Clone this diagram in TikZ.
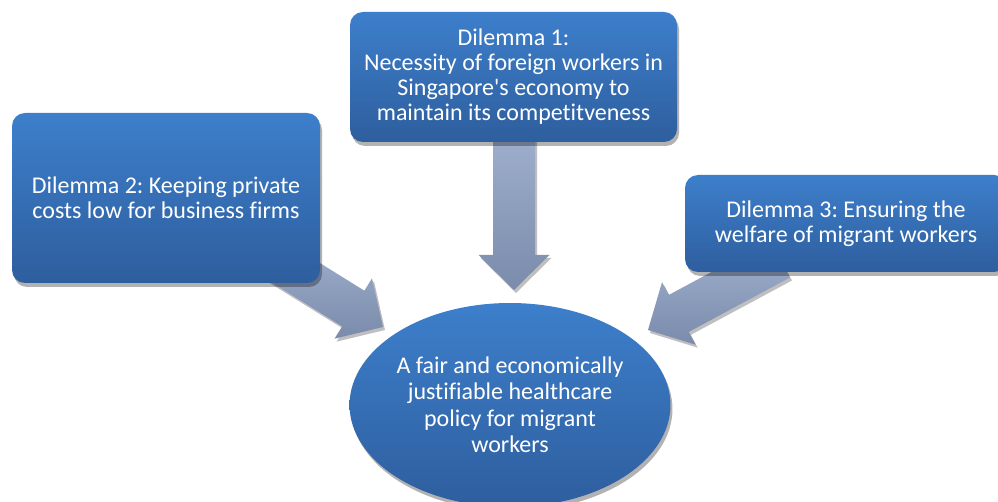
\documentclass[tikz,border=0pt]{standalone}
\usepackage{fontspec}
\setmainfont{Carlito}[Ligatures={NoCommon}]
\usetikzlibrary{shapes.geometric,shadows,calc}
\pgfdeclarelayer{bglayer}
\pgfdeclarelayer{arrowlayer}
\pgfsetlayers{bglayer,arrowlayer,main}
\definecolor{boxtop}{RGB}{61,127,203}
\definecolor{boxbot}{RGB}{46,94,158}
\definecolor{arrtop}{RGB}{162,178,208}
\definecolor{arrbot}{RGB}{122,139,171}
\frenchspacing
\tikzset{
  dilbox/.style={rectangle, rounded corners=13pt, top color=boxtop, bottom color=boxbot,
    draw=none, text=white, align=center, inner sep=0pt,
    font=\fontsize{24}{25}\selectfont,
    drop shadow={shadow xshift=2pt, shadow yshift=-4pt, opacity=0.3, fill=black}},
  goalell/.style={ellipse, top color=boxtop, bottom color=boxbot, draw=none,
    text=white, align=center, inner sep=0pt,
    font=\fontsize{24}{26.5}\selectfont,
    drop shadow={shadow xshift=2pt, shadow yshift=-4pt, opacity=0.3, fill=black}},
  blockarrow/.style={top color=arrtop, bottom color=arrbot, draw=none,
    drop shadow={shadow xshift=2pt, shadow yshift=-3pt, opacity=0.25, fill=black}}
}
% block arrow from #1 (start) to #2 (tip)
\newcommand{\blockarr}[2]{%
  \coordinate (hb) at ($(#2)!35pt!(#1)$);
  \path[blockarrow]
    ($(#1)!21pt!90:(#2)$) -- ($(hb)!21pt!90:(#2)$) -- ($(hb)!35.5pt!90:(#2)$)
    -- (#2) -- ($(hb)!35.5pt!-90:(#2)$) -- ($(hb)!21pt!-90:(#2)$)
    -- ($(#1)!21pt!-90:(#2)$) -- cycle;
}
\begin{document}
\begin{tikzpicture}[x=1pt,y=-1pt]
\begin{pgfonlayer}{bglayer}
\fill[white] (0,0) rectangle (998,502);
\end{pgfonlayer}
\useasboundingbox (0,0) rectangle (998,502);

\node[dilbox, minimum width=327pt, minimum height=130pt] (d1) at (513.5,77)
  {Dilemma 1:\\Necessity of foreign workers in\\Singapore\textquotesingle s economy to\\maintain its competitveness};
\node[dilbox, minimum width=308pt, minimum height=170pt] (d2) at (166,198)
  {Dilemma 2: Keeping private\\costs low for business firms};
\node[dilbox, minimum width=322pt, minimum height=97pt] (d3) at (846,223.5)
  {Dilemma 3: Ensuring the\\welfare of migrant workers};
\node[goalell, minimum width=320pt, minimum height=204pt] (goal) at (510,405)
  {A fair and economically\\justifiable healthcare\\policy for migrant\\workers};

\coordinate (s1) at (514,120);
\coordinate (t1) at (514,290);
\coordinate (s2) at (264,253);
\coordinate (t2) at (383,327);
\coordinate (s3) at (780,259);
\coordinate (t3) at (648,330);

\begin{pgfonlayer}{arrowlayer}
\blockarr{s1}{t1}
\blockarr{s2}{t2}
\blockarr{s3}{t3}
\end{pgfonlayer}
\end{tikzpicture}
\end{document}
